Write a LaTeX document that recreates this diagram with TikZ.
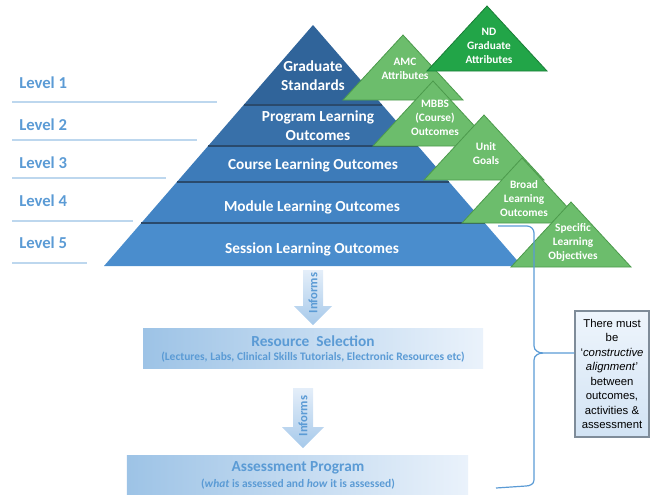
\documentclass[tikz,border=0pt]{standalone}
\usepackage{fontspec}
\setmainfont{Carlito}
\newfontfamily\arialfont{Liberation Sans}
\usetikzlibrary{math}

\definecolor{lvlblue}{HTML}{5B9BD5}
\definecolor{lvlline}{HTML}{BDD7EE}
\definecolor{layA}{HTML}{30649A}
\definecolor{layB}{HTML}{3870A9}
\definecolor{layC}{HTML}{3D7BB9}
\definecolor{layD}{HTML}{4384C4}
\definecolor{layE}{HTML}{4A8DCD}
\definecolor{layedge}{HTML}{2A4A6C}
\definecolor{trigreen}{HTML}{6CBD6C}
\definecolor{triedge}{HTML}{4C9A4C}
\definecolor{ndgreen}{HTML}{22A548}
\definecolor{ndedge}{HTML}{1A7E37}
\definecolor{boxdark}{HTML}{9DC3E6}
\definecolor{boxlight}{HTML}{EAF2FB}
\definecolor{arrowlight}{HTML}{E4EEF9}
\definecolor{arrowdark}{HTML}{A6C9EA}
\definecolor{notetop}{HTML}{EEF5FC}
\definecolor{notebot}{HTML}{D2E3F4}
\definecolor{noteedge}{HTML}{7F8C99}

\tikzset{
  layertext/.style={text=white, font=\bfseries\fontsize{11.5}{14}\selectfont, align=center, inner sep=0pt},
  tritext/.style={text=white, font=\bfseries\fontsize{8.5}{10.5}\selectfont, align=center, inner sep=0pt},
  leveltext/.style={text=lvlblue, font=\bfseries\fontsize{12.5}{14}\selectfont, anchor=west, inner sep=0pt},
  infobox/.style={left color=boxdark, right color=boxlight, inner sep=0pt},
  titletext/.style={text=lvlblue, font=\bfseries\fontsize{11.5}{14}\selectfont, inner sep=0pt},
  subtext/.style={text=lvlblue, font=\bfseries\fontsize{8.6}{10}\selectfont, inner sep=0pt},
  informs/.style={top color=arrowlight, bottom color=arrowdark},
  notebox/.style={draw=noteedge, line width=0.9pt, top color=notetop, bottom color=notebot,
    font=\arialfont\fontsize{8.5}{10.9}\selectfont, align=center, inner sep=0.8pt,
    minimum width=55.5pt, minimum height=94.5pt}
}

\begin{document}
\begin{tikzpicture}[x=0.75pt,y=-0.75pt]
  \useasboundingbox (0,0) rectangle (660,494);
  \tikzmath{\ax = 313; \ay = 25; \slope = 209/241;}
  % pyramid layers
  \foreach \ya/\yb/\col in {25/105/layA,105/146/layB,146/182/layC,182/223/layD,223/266/layE}{
    \tikzmath{\xla = \ax - \slope*(\ya-\ay); \xra = \ax + \slope*(\ya-\ay);
              \xlb = \ax - \slope*(\yb-\ay); \xrb = \ax + \slope*(\yb-\ay);}
    \fill[\col] (\xla,\ya) -- (\xra,\ya) -- (\xrb,\yb) -- (\xlb,\yb) -- cycle;
  }
  \foreach \y in {105,146,182,223}{
    \tikzmath{\xl = \ax - \slope*(\y-\ay); \xr = \ax + \slope*(\y-\ay);}
    \draw[layedge, line width=1.5pt] (\xl,\y) -- (\xr,\y);
  }
  \node[layertext] (grad) at (313,75.5) {Graduate\\Standards};
  \node[layertext] (prog) at (318,125.5) {Program Learning\\Outcomes};
  \node[layertext] (course) at (313,165) {Course Learning Outcomes};
  \node[layertext] (module) at (312,207) {Module Learning Outcomes};
  \node[layertext] (session) at (312,249) {Session Learning Outcomes};
  % levels
  \foreach \n/\y/\ly/\len in {1/83/102/217,2/125/140/197,3/163/178/166,4/201/221/133,5/243/263/87}{
    \node[leveltext] (lvl\n) at (19,\y) {Level \n};
    \draw[lvlline, line width=0.8pt] (12,\ly) -- (\len,\ly);
  }
  % green triangles
  \foreach \nm/\x/\y/\fc/\ec/\dy/\txt in {amc/403/35/trigreen/triedge/34/{AMC\\Attributes},
      nd/487/6/ndgreen/ndedge/40/{ND\\Graduate\\Attributes},
      mbbs/433/81/trigreen/triedge/37/{MBBS\\(Course)\\Outcomes},
      unit/484/115/trigreen/triedge/39/{Unit\\Goals},
      broad/522/158/trigreen/triedge/41/{Broad\\Learning\\Outcomes},
      spec/571/202/trigreen/triedge/40/{Specific\\Learning\\Objectives}}{
    \draw[fill=\fc, draw=\ec, line width=0.6pt] (\x,\y) -- ++(-60,65) -- ++(120,0) -- cycle;
    \node[tritext] (\nm) at (\x+2,\y+\dy) {\txt};
  }
  % informs arrows
  \shade[informs, shift={(313,270)}] (-10,0) -- (10,0) -- (10,36) -- (19,36) -- (0,55) -- (-19,36) -- (-10,36) -- cycle;
  \node[rotate=90, text=lvlblue, font=\bfseries\fontsize{9.5}{11}\selectfont] (inf1) at (313,293) {Informs};
  \shade[informs, shift={(303,388)}] (-10,0) -- (10,0) -- (10,39) -- (21,39) -- (0,60) -- (-21,39) -- (-10,39) -- cycle;
  \node[rotate=90, text=lvlblue, font=\bfseries\fontsize{9.5}{11}\selectfont] (inf2) at (303,416) {Informs};
  % boxes
  \node[infobox, minimum width=255pt, minimum height=30pt] (res) at (313,348) {};
  \node[titletext] (resTitle) at (313,341) {Resource\ \ Selection};
  \node[subtext] (resSub) at (313,357) {(Lectures, Labs, Clinical Skills Tutorials, Electronic Resources etc)};
  \node[infobox, minimum width=256pt, minimum height=29.25pt] (assess) at (297.5,474.5) {};
  \node[titletext] (assessTitle) at (298,468) {Assessment Program};
  \node[subtext] (assessSub) at (298,484) {(\textit{what} is assessed and \textit{how} it is assessed)};
  % alignment note and brace
  \node[notebox] (note) at (612,374) {There must\\be\\‘\textit{constructive}\\\textit{alignment}’\\between\\outcomes,\\activities \&\\assessment};
  \coordinate (braceTop) at (498,226);
  \coordinate (braceTip) at (543,353);
  \coordinate (braceBot) at (496,488);
  \draw[lvlblue, line width=0.9pt] (braceTop) -- (527,226) to[out=0,in=90] (534,233) -- (534,346)
    to[out=-90,in=180] (braceTip) -- (note.west |- braceTip);
  \draw[lvlblue, line width=0.9pt] (braceTip) to[out=180,in=90] (534,360) -- (534,480)
    to[out=-90,in=0] (526,486) -- (braceBot);
\end{tikzpicture}
\end{document}
